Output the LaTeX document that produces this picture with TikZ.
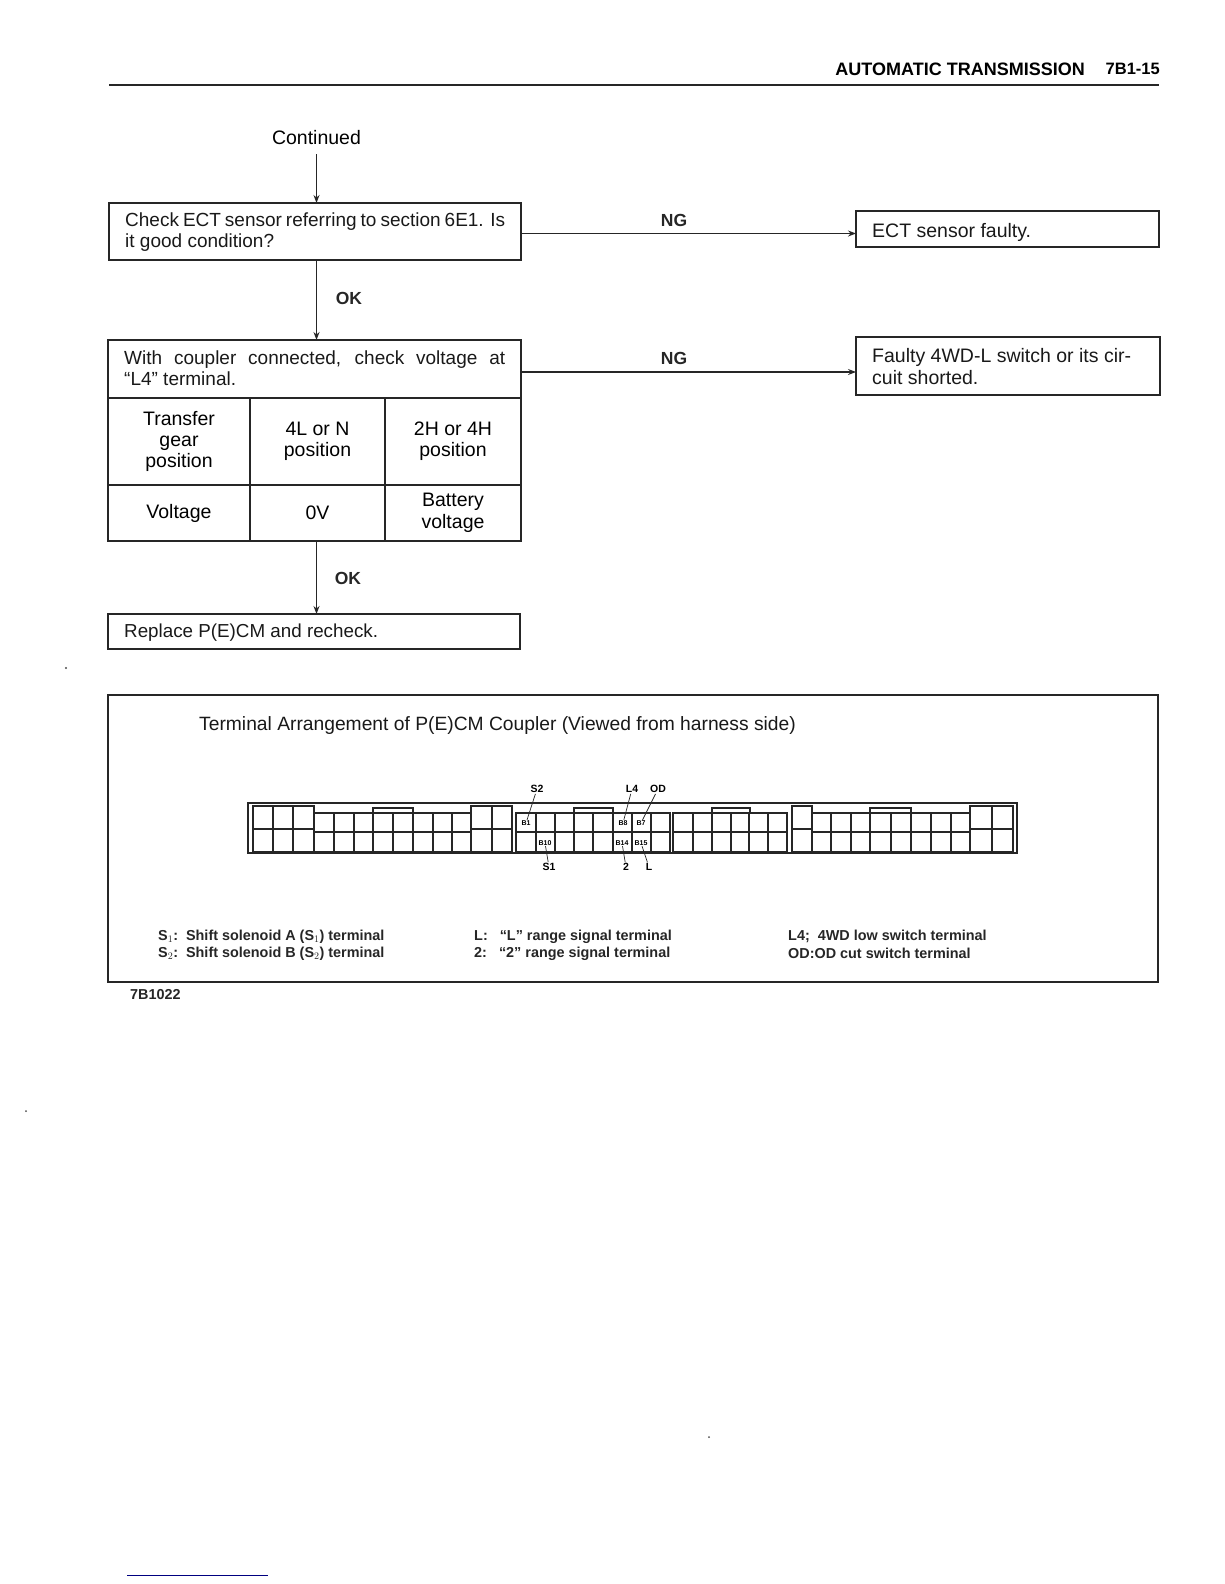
\documentclass[tikz,border=0pt]{standalone}
\usepackage{fontspec}
\setmainfont{Liberation Sans}
\usetikzlibrary{arrows.meta, positioning, calc}
\tikzset{
    flowbox/.style={draw=black!85, line width=1.2pt, outer sep=0pt, inner sep=0pt, anchor=north west, font=\fontsize{19.5}{21}\selectfont},
    cellbox/.style={flowbox, align=center, minimum height=#1, inner sep=0pt},
    boxtxt/.style={anchor=west, inner sep=0pt, align=left, text=black!90, font=\fontsize{#1}{21}\selectfont},
    trans/.style={-{Stealth[length=8pt, width=6pt]}, line width=1.5pt, black!85},
    tag/.style={font=\fontsize{17.5}{21}\selectfont\bfseries, text=black!85},
    pin/.style={font=\fontsize{10.5}{12}\selectfont\bfseries, inner sep=1pt},
    cellpin/.style={font=\fontsize{7}{8}\selectfont\bfseries, inner sep=.5pt},
    legend/.style={anchor=west, inner sep=0pt, font=\fontsize{14.4}{16}\selectfont\bfseries, text=black!85},
    wire/.style={line width=.7pt, black!85},
    coupler/.style={line width=1.1pt, black!85}
}
\begin{document}
\begin{tikzpicture}[x=1pt, y=-1pt]
    \useasboundingbox (0,0) rectangle (1224,1584);
    % header
    \node[anchor=east, inner sep=0pt, font=\fontsize{18}{20}\selectfont\bfseries] (title) at (1085,69) {AUTOMATIC TRANSMISSION};
    \node[anchor=east, inner sep=0pt, font=\fontsize{16.5}{20}\selectfont\bfseries] (page) at (1160,69) {7B1-15};
    \draw[line width=2.2pt, black!85] (109,85) -- (1159,85);
    % flow
    \node[font=\fontsize{19.5}{21}\selectfont, inner sep=1pt] (cont) at (316.5,138) {Continued};
    \node[flowbox, minimum width=412pt, minimum height=57pt] (chk) at (109,203) {};
    \node[boxtxt=19] (chktxt) at (125,232) {\makebox[380pt][s]{Check ECT sensor referring to section 6E1. Is}\\it good condition?};
    \node[flowbox, minimum width=303pt, minimum height=36pt] (ect) at (856,211) {};
    \node[boxtxt=19.5] (ecttxt) at (872,232.5) {ECT sensor faulty.};
    \node[flowbox, minimum width=413pt, minimum height=58pt] (vlt) at (108,340) {};
    \node[boxtxt=19] (vlttxt) at (124,368.5) {\makebox[381pt][s]{With coupler connected, check voltage at}\\``L4'' terminal.};
    \node[flowbox, minimum width=304pt, minimum height=58pt] (flt) at (856,337) {};
    \node[boxtxt=19.5, font=\fontsize{19.5}{22}\selectfont] (flttxt) at (872,367) {Faulty 4WD-L switch or its cir-\\cuit shorted.};
    % table
    \node[cellbox=87pt, minimum width=142pt] (tgear) at (108,398) {Transfer\\gear\\position};
    \node[cellbox=87pt, minimum width=135pt, right=0pt of tgear] (tlow) {4L or N\\position};
    \node[cellbox=87pt, minimum width=136pt, right=0pt of tlow] (thigh) {2H or 4H\\position};
    \node[cellbox=56pt, minimum width=142pt, below=0pt of tgear] (vname) {Voltage};
    \node[cellbox=56pt, minimum width=135pt, right=0pt of vname] (vlow) {0V};
    \node[cellbox=56pt, minimum width=136pt, right=0pt of vlow] (vhigh) {Battery\\[1pt]voltage};
    \node[flowbox, minimum width=412pt, minimum height=35pt] (rep) at (108,614) {};
    \node[boxtxt=18.8] (reptxt) at (124,633) {Replace P(E)CM and recheck.};
    \draw[trans, shorten <=8pt] (cont) -- (cont |- chk.north);
    \draw[trans] (cont |- chk.south) -- (cont |- vlt.north);
    \draw[trans] (cont |- vlow.south) -- (cont |- rep.north);
    \draw[trans, line width=1.2pt] ($(chk.east)+(0,2)$) -- ($(chk.east -| ect.west)+(0,2)$);
    \draw[trans, line width=1.2pt] ($(vlt.east)+(0,3)$) -- ($(vlt.east -| flt.west)+(0,3)$);
    \node[tag] (ng1) at (674,220) {NG};
    \node[tag] (ng2) at (674,358) {NG};
    \node[tag] (ok1) at (349,298) {OK};
    \node[tag] (ok2) at (348,578) {OK};
    % coupler frame
    \node[flowbox, minimum width=1050pt, minimum height=287pt] (frame) at (108,695) {};
    \node[boxtxt=19.25] (arrtxt) at (199,726) {Terminal Arrangement of P(E)CM Coupler (Viewed from harness side)};
    \draw[coupler, line width=1.5pt] (248,803) rectangle (1017,853);
    % short cells
    \foreach \xa/\xb in {314/334,334/354,354/373,373/393,393/413,413/433,433/452,452/471,
                         516/536,536/555,555/574,574/593,593/613,613/632,632/651,651/670,
                         673/693,693/712,712/731,731/749,749/768,768/787,
                         812/831,831/851,851/870,870/891,891/911,911/931,931/951,951/970}{
        \draw[coupler] (\xa,813) rectangle (\xb,832);
        \draw[coupler] (\xa,832) rectangle (\xb,852);
    }
    % tall cells
    \foreach \xa/\xb in {253/273,273/293,293/314,471/492,492/512,792/812,970/992,992/1013}{
        \draw[coupler] (\xa,806) rectangle (\xb,829);
        \draw[coupler] (\xa,829) rectangle (\xb,852);
    }
    % tabs
    \foreach \xa/\xb in {373/413,574/613,712/750,870/911}{
        \draw[coupler] (\xa,813) -- (\xa,808) -- (\xb,808) -- (\xb,813);
    }
    \node[cellpin] (b1) at (526,823) {B1};
    \node[cellpin] (b10) at (545,843) {B10};
    \node[cellpin] (b8) at (623,823) {B8};
    \node[cellpin] (b7) at (641,823) {B7};
    \node[cellpin] (b14) at (622,843) {B14};
    \node[cellpin] (b15) at (641,843) {B15};
    \node[pin] (s2) at (537,789) {S2};
    \node[pin] (l4) at (632,789) {L4};
    \node[pin] (od) at (658,789) {OD};
    \node[pin] (s1) at (549,867) {S1};
    \node[pin] (two) at (626,867) {2};
    \node[pin] (el) at (649,867) {L};
    \draw[wire] (s2) -- (b1);
    \draw[wire] (l4) -- (b8);
    \draw[wire] (od) -- (b7);
    \draw[wire] (s1) -- (b10);
    \draw[wire] (two) -- (b14);
    \draw[wire] (el) -- (b15);
    % legend
    \node[legend] (k1) at (158,937) {S$_1$:\ \ Shift solenoid A (S$_1$) terminal};
    \node[legend] (k2) at (158,954) {S$_2$:\ \ Shift solenoid B (S$_2$) terminal};
    \node[legend] (k3) at (474,937) {L:\ \ \ ``L'' range signal terminal};
    \node[legend] (k4) at (474,954) {2:\ \ \ ``2'' range signal terminal};
    \node[legend] (k5) at (788,936) {L4;\ \ 4WD low switch terminal};
    \node[legend] (k6) at (788,953) {OD:OD cut switch terminal};
    \node[legend] (fig) at (130,995) {7B1022};
    % specks and the scan line
    \fill[black!70] (66,668) circle (1.2pt);
    \fill[black!70] (26,1111) circle (1pt);
    \fill[black!70] (709,1437) circle (1pt);
    \draw[blue!50!black, line width=1pt] (127,1575) -- (268,1575);
\end{tikzpicture}
\end{document}
